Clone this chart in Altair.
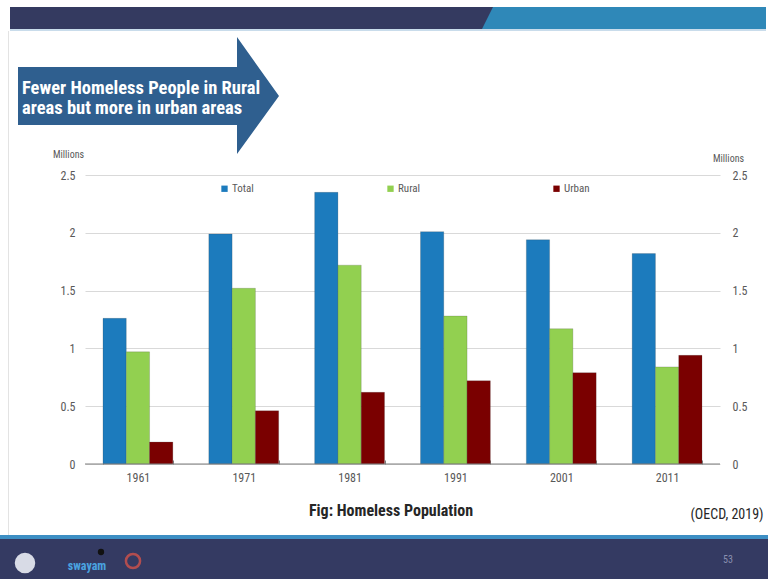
import altair as alt
import pandas as pd

# Homeless population of India by census year, millions
years = ["1961", "1971", "1981", "1991", "2001", "2011"]
series = ["Total", "Rural", "Urban"]
total = [1.26, 1.99, 2.35, 2.01, 1.94, 1.82]
rural = [0.97, 1.52, 1.72, 1.28, 1.17, 0.84]
urban = [0.19, 0.46, 0.62, 0.72, 0.79, 0.94]
y_ticks = [0, 0.5, 1, 1.5, 2, 2.5]

colors = ["#1c7bbd", "#92d050", "#7a0000"]

rows = []
for name, vals in zip(series, [total, rural, urban]):
    for yr, v in zip(years, vals):
        rows.append({"year": yr, "series": name, "value": v})
df = pd.DataFrame(rows)

FONT = "Liberation Sans Narrow, Arial Narrow, Roboto Condensed, Liberation Sans, sans-serif"

# plot area geometry inside the 768x579 page
LEFT, TOP, W, H = 85, 175, 635, 289
PAGE_W, PAGE_H = 768, 579

one = pd.DataFrame({"k": [0]})


def poly(points, color):
    """Filled polygon given in page pixels, drawn as a custom symbol path."""
    path = "M " + " L ".join(f"{x - LEFT} {y - TOP}" for x, y in points) + " Z"
    return alt.Chart(one).mark_point(
        shape=path, size=4, filled=True, color=color, opacity=1, strokeWidth=0
    ).encode(x=alt.value(0), y=alt.value(0))


def rect(x1, y1, x2, y2, color):
    return alt.Chart(one).mark_rect(color=color).encode(
        x=alt.value(x1 - LEFT), x2=alt.value(x2 - LEFT),
        y=alt.value(y1 - TOP), y2=alt.value(y2 - TOP),
    )


def label(txt, x, y, size, color, weight="normal", align="center", font=FONT):
    return alt.Chart(one).mark_text(
        text=txt, fontSize=size, color=color, fontWeight=weight, align=align,
        baseline="middle", font=font,
    ).encode(x=alt.value(x - LEFT), y=alt.value(y - TOP))


x_enc = alt.X(
    "year:N", sort=years, title=None,
    scale=alt.Scale(paddingInner=0.34, paddingOuter=0.17),
    axis=alt.Axis(
        domain=False, tickBand="extent", tickSize=4, tickColor="#7f7f7f",
        offset=-4, labelPadding=8, labelFontSize=12, labelColor="#595959",
        labelFont=FONT, labelAngle=0, grid=False,
    ),
)
xo_enc = alt.XOffset("series:N", sort=series, scale=alt.Scale(paddingInner=0, paddingOuter=0))
y_scale = alt.Scale(domain=[0, 2.5], nice=False)

bars = alt.Chart(df).mark_bar(stroke="#3a3a3a", strokeWidth=0.4, strokeOpacity=0.5).encode(
    x=x_enc,
    xOffset=xo_enc,
    y=alt.Y(
        "value:Q", scale=y_scale, title="Millions",
        axis=alt.Axis(
            orient="left", values=y_ticks, format="~g", domain=False, ticks=False,
            grid=True, gridColor="#d9d9d9", labelPadding=10, labelFontSize=12,
            labelColor="#595959", labelFont=FONT,
            titleAngle=0, titleX=-17, titleY=-16, titleAlign="center",
            titleFontSize=10, titleFontWeight="normal", titleColor="#595959", titleFont=FONT,
        ),
    ),
    color=alt.Color(
        "series:N", sort=series, title=None,
        scale=alt.Scale(domain=series, range=colors),
        legend=alt.Legend(
            orient="none", legendX=134, legendY=8, direction="horizontal", columns=3,
            gridAlign="all", columnPadding=127, symbolType="square", symbolSize=40,
            symbolStrokeWidth=0, labelFontSize=11, labelColor="#595959", labelFont=FONT,
            labelOffset=2,
        ),
    ),
)

# same scale, mirrored on the right-hand side
right_axis = alt.Chart(df).mark_point(opacity=0).encode(
    x=alt.X("year:N", sort=years),
    xOffset=xo_enc,
    y=alt.Y(
        "value:Q", scale=y_scale, title="Millions",
        axis=alt.Axis(
            orient="right", values=y_ticks, format="~g", domain=False, ticks=False,
            grid=False, labelPadding=12, labelFontSize=12, labelColor="#595959",
            labelFont=FONT, titleAngle=0, titleX=8, titleY=-12, titleAlign="center",
            titleFontSize=10, titleFontWeight="normal", titleColor="#595959", titleFont=FONT,
        ),
    ),
)

baseline = alt.Chart(one).mark_rule(color="#7f7f7f", strokeWidth=1).encode(
    y=alt.YDatum(0, scale=y_scale, axis=None)
)

# slide decoration
top_dark = rect(10, 7, 766, 29, "#343a60")
top_blue = poly([(493, 7), (766, 7), (766, 29), (482, 29)], "#2f88b8")
top_line = rect(10, 29, 766, 31, "#c9dceb")
left_edge = rect(8, 31, 9, 536, "#e3e3e3")
arrow = poly(
    [(18, 67), (237, 67), (237, 37), (279, 96), (237, 154), (237, 125), (18, 125)],
    "#2f5f8f",
)
arrow_l1 = label("Fewer Homeless People in Rural", 22, 88, 18.5, "white", "bold", "left")
arrow_l2 = label("areas but more in urban areas", 22, 108, 18.5, "white", "bold", "left")
caption = label("Fig: Homeless Population", 391, 511, 16, "#262626", "bold")
source = label("(OECD, 2019)", 727, 515, 14, "#262626")

bottom_line = rect(0, 535, 768, 539, "#3d8fc4")
bottom_dark = rect(0, 539, 768, 579, "#343a62")
page_no = label("53", 728, 560, 10, "#8a90b0")
logo1 = alt.Chart(one).mark_point(
    shape="circle", size=420, filled=True, color="#d8dbe6", opacity=1
).encode(x=alt.value(25 - LEFT), y=alt.value(563 - TOP))
logo2 = label("swayam", 87, 566, 12, "#4aa3e0", "bold")
logo2_dot = alt.Chart(one).mark_point(
    shape="circle", size=40, filled=True, color="#111111", opacity=1
).encode(x=alt.value(101 - LEFT), y=alt.value(552 - TOP))
logo3 = alt.Chart(one).mark_point(
    shape="circle", size=200, filled=False, color="#c0504d", strokeWidth=2.5, opacity=0.9
).encode(x=alt.value(133 - LEFT), y=alt.value(561 - TOP))

chart = alt.layer(
    top_dark, top_blue, top_line, left_edge, arrow, arrow_l1, arrow_l2,
    bars, right_axis, baseline,
    caption, source, bottom_line, bottom_dark, page_no, logo1, logo2, logo2_dot, logo3,
).resolve_axis(y="independent").properties(
    width=W, height=H,
    autosize=alt.AutoSizeParams(type="none"),
    padding={"left": LEFT, "top": TOP, "right": PAGE_W - LEFT - W, "bottom": PAGE_H - TOP - H},
    background="white",
).configure_view(stroke=None)

chart.save("out.html", embed_options={"renderer": "svg", "actions": False})
